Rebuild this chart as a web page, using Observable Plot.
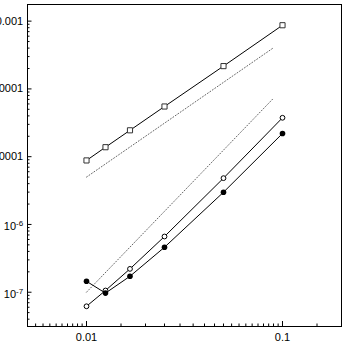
<!DOCTYPE html>
<html><head><meta charset="utf-8">
<script src="https://cdn.jsdelivr.net/npm/d3@7"></script>
<script src="https://cdn.jsdelivr.net/npm/@observablehq/plot@0.6"></script>
<style>html,body{margin:0;padding:0;background:#fff;}</style>
</head><body><div id="chart"></div>
<script>
// grid spacing
const h = [0.01, 0.0125, 1/60, 0.025, 0.05, 0.1];
// error series
const errSquare = [8.8e-6, 1.38e-5, 2.45e-5, 5.5e-5, 2.17e-4, 8.7e-4];
const errOpen   = [6.2e-8, 1.06e-7, 2.21e-7, 6.64e-7, 4.82e-6, 3.75e-5];
const errFilled = [1.45e-7, 9.7e-8, 1.72e-7, 4.61e-7, 2.99e-6, 2.2e-5];
// reference slopes (2nd and 3rd order)
const refX = [0.01, 0.09];
const refSecond = [5e-6, 4.05e-4];
const refThird = [1e-7, 7.29e-5];
// ticks
const xMajor = [0.01, 0.1];
const xTickLabels = ["0.01", "0.1"];
const yMajor = [1e-7, 1e-6, 1e-5, 1e-4, 1e-3];
const yTickLabels = ["10^-7", "10^-6", "0.00001", "0.0001", "0.001"];
const xMinor = [...d3.range(11, 20).map(k => k * 0.0005), ...d3.range(3, 20).map(k => k * 0.005), 0.15];
const yDomain = [3.12e-8, 1.76e-3];
const yMinor = [];
for (let e = -8; e <= -3; e++) for (let m = 2; m <= 9; m++) {
  const v = m * Math.pow(10, e);
  if (v > yDomain[0] && v < yDomain[1]) yMinor.push(v);
}

const W = 346, H = 349, mL = 27, mR = 5, mT = 4, mB = 23;
const iW = W - mL - mR, iH = H - mT - mB;
const pts = ys => h.map((x, i) => ({x, y: ys[i]}));
const refPts = ys => refX.map((x, i) => ({x, y: ys[i]}));
const FONT = "'Liberation Sans', Arial, Helvetica, sans-serif";

const svg = Plot.plot({
  width: W, height: H,
  marginLeft: mL, marginRight: mR, marginTop: mT, marginBottom: mB,
  style: {fontFamily: FONT, fontSize: "11px", background: "white", overflow: "visible", color: "#000"},
  x: {type: "log", domain: [0.005, 0.2]},
  y: {type: "log", domain: yDomain},
  marks: [
    Plot.ruleX(xMajor, {x: d => d, insetTop: iH - 5, stroke: "#000"}),
    Plot.ruleX(xMinor, {x: d => d, insetTop: iH - 2.5, stroke: "#000"}),
    Plot.ruleY(yMajor, {y: d => d, insetRight: iW - 4.5, stroke: "#000"}),
    Plot.ruleY(yMinor, {y: d => d, insetRight: iW - 2.5, stroke: "#000"}),
    Plot.axisX(xMajor, {tickSize: 0, tickPadding: 7, label: null, fontSize: 11, fill: "#000", tickFormat: d => xTickLabels[xMajor.indexOf(d)]}),
    Plot.axisY(yMajor, {tickSize: 0, tickPadding: 4.3, label: null, fontSize: 11, fill: "#000", tickFormat: d => yTickLabels[yMajor.indexOf(d)]}),
    Plot.line(refPts(refSecond), {x: "x", y: "y", stroke: "#666", strokeWidth: 1, strokeDasharray: "1,2"}),
    Plot.line(refPts(refThird), {x: "x", y: "y", stroke: "#666", strokeWidth: 1, strokeDasharray: "1,2"}),
    Plot.line(pts(errSquare), {x: "x", y: "y", stroke: "#000", strokeWidth: 1}),
    Plot.line(pts(errOpen), {x: "x", y: "y", stroke: "#000", strokeWidth: 1}),
    Plot.line(pts(errFilled), {x: "x", y: "y", stroke: "#000", strokeWidth: 1}),
    Plot.dot(pts(errSquare), {x: "x", y: "y", symbol: "square", r: 2.9, fill: "white", stroke: "#333", strokeWidth: 1}),
    Plot.dot(pts(errOpen), {x: "x", y: "y", r: 2.4, fill: "white", stroke: "#000", strokeWidth: 1}),
    Plot.dot(pts(errFilled), {x: "x", y: "y", r: 2.8, fill: "#000", stroke: "none"}),
    Plot.frame({stroke: "#000", strokeWidth: 1})
  ]
});

d3.select(svg).selectAll('g[aria-label="y-axis tick label"] text').each(function () {
  const t = this.textContent;
  if (t.startsWith("10^")) {
    const s = d3.select(this);
    s.text(null);
    s.append("tspan").attr("dy", "2.5").text("10");
    s.append("tspan").attr("dy", "-4.2").attr("font-size", "8px").text(t.slice(3));
  }
});
document.getElementById("chart").appendChild(svg);
</script>
</body></html>
